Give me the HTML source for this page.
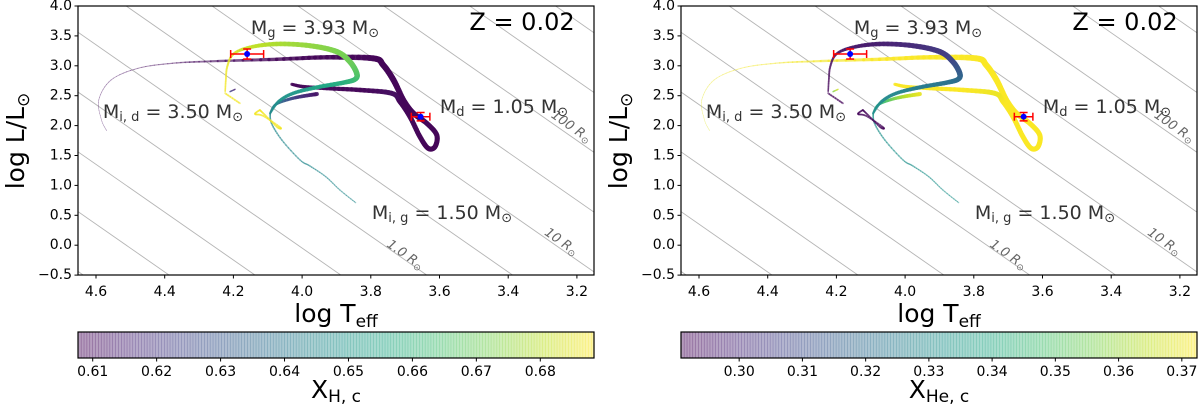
<!DOCTYPE html>
<html><head><meta charset="utf-8"><style>
html,body{margin:0;padding:0;background:#fff;overflow:hidden;width:1200px;height:416px;}
svg{display:block;font-family:"DejaVu Sans","Liberation Sans",sans-serif;}
</style></head><body>
<svg id="chart" width="1200" height="416" viewBox="0 0 1200 416" xmlns="http://www.w3.org/2000/svg"></svg>
<script>
// ---- data ----
const xTicks = [4.6, 4.4, 4.2, 4.0, 3.8, 3.6, 3.4, 3.2];
const yTicks = [-0.5, 0.0, 0.5, 1.0, 1.5, 2.0, 2.5, 3.0, 3.5, 4.0];
const radiusLogR = [-3, -2.5, -2, -1.5, -1, -0.5, 0, 0.5, 1, 1.5, 2, 2.5, 3];
const cbTicksH = [0.61, 0.62, 0.63, 0.64, 0.65, 0.66, 0.67, 0.68];
const cbTicksHe = [0.30, 0.31, 0.32, 0.33, 0.34, 0.35, 0.36, 0.37];
const cbRangeH = [0.6077, 0.6884];
const cbRangeHe = [0.2908, 0.3724];

// donor track
const donorT = [4.569,4.584,4.592,4.556,4.478,4.378,4.266,4.074,3.928,3.793,3.764,3.734,3.705,3.676,3.637,3.608,3.613,3.633,3.657,3.686,3.715,3.739,3.831,3.928,3.996,4.030];
const donorL = [1.915,2.094,2.428,2.763,2.958,3.042,3.075,3.109,3.142,3.125,3.013,2.763,2.428,2.206,2.038,1.843,1.647,1.620,1.814,2.149,2.400,2.540,2.595,2.624,2.651,2.691];
const donorXH = [0.612,0.611,0.611,0.611,0.610,0.610,0.610,0.609,0.609,0.609,0.609,0.609,0.609,0.609,0.609,0.609,0.609,0.609,0.609,0.609,0.609,0.611,0.609,0.609,0.609,0.609];
const donorXHe = [0.368,0.369,0.369,0.370,0.371,0.371,0.371,0.372,0.372,0.372,0.372,0.372,0.372,0.372,0.372,0.372,0.372,0.372,0.372,0.372,0.372,0.370,0.372,0.372,0.372,0.372];
const donorW = [0.6,0.6,0.7,0.8,0.9,1.2,2,3.5,4.5,6,6,6,5.5,5.5,5,5,5,5,5,5,5,5,4.5,4,3.5,3];

// gainer main sequence
const gmsT = [3.844,3.890,3.931,3.977,4.006,4.059,4.089,4.093];
const gmsL = [0.711,0.923,1.145,1.324,1.425,1.759,2.038,2.206];
const gmsXH = [0.645,0.645,0.645,0.645,0.645,0.645,0.645,0.645];
const gmsXHe = [0.332,0.332,0.332,0.332,0.332,0.332,0.332,0.332];
const gmsW = [1.2,1.2,1.3,1.4,1.4,1.5,1.6,1.7];

// gainer lower branch
const glowT = [4.093,4.079,4.045,4.006,3.957];
const glowL = [2.206,2.344,2.428,2.483,2.528];
const glowXH = [0.645,0.640,0.630,0.620,0.612];
const glowXHe = [0.331,0.340,0.352,0.362,0.370];
const glowW = [2,2.5,3,3.5,4];

// gainer upper thick branch
const gupT = [4.093,4.069,4.026,3.957,3.880,3.846,3.841,3.861,3.899,3.977,4.074,4.152,4.200,4.218,4.222,4.224];
const gupL = [2.206,2.400,2.540,2.640,2.718,2.774,2.875,3.069,3.236,3.336,3.365,3.309,3.197,2.985,2.763,2.567];
const gupXH = [0.646,0.648,0.650,0.654,0.658,0.662,0.666,0.670,0.672,0.675,0.678,0.681,0.684,0.686,0.687,0.687];
const gupXHe = [0.331,0.330,0.328,0.325,0.322,0.320,0.317,0.310,0.305,0.301,0.298,0.296,0.294,0.293,0.292,0.292];
const gupW = [2,3,3.5,4,4.5,5,5.5,5.5,5.5,5,4.5,3.5,2.5,2,1.8,1.6];

// small hooks and loop
const hook1T = [4.224,4.181];
const hook1L = [2.540,2.373];
const hook1XH = [0.687,0.687];
const hook1XHe = [0.292,0.292];
const hook2T = [4.210,4.195];
const hook2L = [2.567,2.607];
const hook2XH = [0.625,0.615];
const hook2XHe = [0.355,0.368];
const loopT = [4.123,4.137,4.113,4.064,4.072,4.108,4.123];
const loopL = [2.261,2.194,2.161,1.972,1.972,2.177,2.261];
const loopXH = [0.687,0.687,0.687,0.687,0.687,0.687,0.687];
const loopXHe = [0.292,0.292,0.292,0.292,0.292,0.292,0.292];

// observed stars
const obsT = [4.160, 3.655];
const obsL = [3.197, 2.149];
const obsErrT = [0.048, 0.027];
const obsErrL = [0.084, 0.070];

// ---- helpers ----
const NS = 'http://www.w3.org/2000/svg';
const svg = document.getElementById('chart');
function el(tag, attrs, parent){ const e=document.createElementNS(NS,tag); for(const k in attrs) e.setAttribute(k,attrs[k]); (parent||svg).appendChild(e); return e; }
const vir = ['#440154','#482475','#414487','#355f8d','#2a788e','#21918c','#22a884','#44bf70','#7ad151','#bddf26','#fde725'];
function hex(c){return [parseInt(c.slice(1,3),16),parseInt(c.slice(3,5),16),parseInt(c.slice(5,7),16)];}
function viridis(t){ t=Math.max(0,Math.min(1,t)); const p=t*10, i=Math.min(9,Math.floor(p)), f=p-i; const a=hex(vir[i]), b=hex(vir[i+1]); return 'rgb('+a.map((v,k)=>Math.round(v+(b[k]-v)*f)).join(',')+')'; }

const AX = {left:78, right:594, top:6, bottom:275};
const TMAX = 4.6 + (96-78)/343.5, TMIN = 4.6 - (594-96)/343.5;
function panel(off, idx){
  const g = el('g', {});
  
  
  const X = t => off + 96 + (4.6 - t)*343.5;
  const Y = l => 6 + (4 - l)*59.8;
  const range = idx===0 ? cbRangeH : cbRangeHe;
  const norm = v => (v-range[0])/(range[1]-range[0]);
  const clipId = 'clip'+idx;
  const cp = el('clipPath',{id:clipId},g);
  el('rect',{x:off+AX.left,y:AX.top,width:AX.right-AX.left,height:AX.bottom-AX.top},cp);
  const plot = el('g',{'clip-path':'url(#'+clipId+')'},g);
  radiusLogR.forEach(r=>{
    // logL = 2r + 4(logT - 3.762); clip to axes range
    const Lof = t => 2*r + 4*(t-3.762);
    const Tof = l => 3.762 + (l-2*r)/4;
    let tA = Math.min(TMAX, Tof(4.0));   // high-T end (upper left)
    let tB = Math.max(TMIN, Tof(-0.5));  // low-T end (lower right)
    if (tA <= tB) return;
    const ln = el('line',{x1:X(tA),y1:Y(Lof(tA)),x2:X(tB),y2:Y(Lof(tB)),stroke:'#b5b5b5','stroke-width':0.9},plot);
    
    
  });
  function track(T,L,V,W,name){
    const tg = el('g',{},plot);
    
    
    const pts = T.map((t,i)=>[X(t),Y(L[i])]);
    const n=pts.length, sub=8;
    for(let i=0;i<n-1;i++){
      const p0=pts[Math.max(0,i-1)],p1=pts[i],p2=pts[i+1],p3=pts[Math.min(n-1,i+2)];
      let prev=p1;
      for(let s=1;s<=sub;s++){
        const u=s/sub,u2=u*u,u3=u2*u;
        const cx=0.5*((2*p1[0])+(-p0[0]+p2[0])*u+(2*p0[0]-5*p1[0]+4*p2[0]-p3[0])*u2+(-p0[0]+3*p1[0]-3*p2[0]+p3[0])*u3);
        const cy=0.5*((2*p1[1])+(-p0[1]+p2[1])*u+(2*p0[1]-5*p1[1]+4*p2[1]-p3[1])*u2+(-p0[1]+3*p1[1]-3*p2[1]+p3[1])*u3);
        const fm=(s-0.5)/sub;
        const v=V[i]+(V[i+1]-V[i])*fm;
        const w=(W?W[i]+(W[i+1]-W[i])*fm:2);
        el('line',{x1:prev[0],y1:prev[1],x2:cx,y2:cy,stroke:viridis(norm(v)),'stroke-width':w,'stroke-linecap':'round','stroke-opacity':Math.min(0.92,0.3+w*0.15)},tg);
        prev=[cx,cy];
      }
    }
  }
  const pick=(a,b)=> idx===0?a:b;
  track(donorT,donorL,pick(donorXH,donorXHe),donorW,'donor-track');
  track(gmsT,gmsL,pick(gmsXH,gmsXHe),gmsW,'gainer-ms-track');
  track(glowT,glowL,pick(glowXH,glowXHe),glowW,'gainer-lower-branch');
  track(gupT,gupL,pick(gupXH,gupXHe),gupW,'gainer-upper-branch');
  track(hook1T,hook1L,pick(hook1XH,hook1XHe),[1.8,1.8],'gainer-hook');
  track(hook2T,hook2L,pick(hook2XH,hook2XHe),[1.5,1.5],'gainer-hook-dark');
  track(loopT,loopL,pick(loopXH,loopXHe),[1.8,1.8,1.8,1.8,1.8,1.8,1.8],'gainer-loop');
  obsT.forEach((t,i)=>{
    const og=el('g',{},plot);
    
    
    const cx=X(t), cy=Y(obsL[i]), xa=X(t+obsErrT[i]), xb=X(t-obsErrT[i]), ya=Y(obsL[i]+obsErrL[i]), yb=Y(obsL[i]-obsErrL[i]);
    el('line',{x1:xa,y1:cy,x2:xb,y2:cy,stroke:'#ff0000','stroke-width':1.5},og);
    el('line',{x1:cx,y1:ya,x2:cx,y2:yb,stroke:'#ff0000','stroke-width':1.5},og);
    [[xa,cy,1],[xb,cy,1],[cx,ya,0],[cx,yb,0]].forEach(c=>{
      if(c[2]) el('line',{x1:c[0],y1:c[1]-4,x2:c[0],y2:c[1]+4,stroke:'#ff0000','stroke-width':1.5},og);
      else el('line',{x1:c[0]-4,y1:c[1],x2:c[0]+4,y2:c[1],stroke:'#ff0000','stroke-width':1.5},og);
    });
    el('circle',{cx:cx,cy:cy,r:3,fill:'#0000ff'},og);
  });
  [['1.0',405,255],['10',561,242],['100',571,127]].forEach(r=>{
    const t=el('text',{x:off+r[1],y:r[2],'font-size':13,'font-style':'italic',fill:'#666','text-anchor':'middle','dominant-baseline':'central',transform:'rotate(35 '+(off+r[1])+' '+r[2]+')'},g);
    
    
    t.innerHTML=r[0]+' R<tspan font-size="9" dy="4">⊙</tspan>';
  });
  el('rect',{x:off+AX.left,y:AX.top,width:AX.right-AX.left,height:AX.bottom-AX.top,fill:'none',stroke:'#000','stroke-width':1.2},g);
  xTicks.forEach(t=>{
    const x=X(t);
    el('line',{x1:x,y1:AX.bottom,x2:x,y2:AX.bottom+3.5,stroke:'#000','stroke-width':1},g);
    const tx=el('text',{x:x,y:292,'font-size':14,'text-anchor':'middle','dominant-baseline':'central'},g);
    
    
    tx.textContent=t.toFixed(1);
  });
  yTicks.forEach(l=>{
    const y=Y(l);
    el('line',{x1:off+AX.left-3.5,y1:y,x2:off+AX.left,y2:y,stroke:'#000','stroke-width':1},g);
    const ty=el('text',{x:off+AX.left-6,y:y,'font-size':14,'text-anchor':'end','dominant-baseline':'central'},g);
    
    
    ty.textContent=(l<0?'−':'')+Math.abs(l).toFixed(1);
  });
  const xl=el('text',{x:off+336,y:322,'font-size':25,'text-anchor':'middle'},g);
  
  
  xl.innerHTML='log T<tspan font-size="17" dy="5">eff</tspan>';
  const yl=el('text',{x:0,y:0,'font-size':25,'text-anchor':'middle',transform:'translate('+(off+24)+',141) rotate(-90)'},g);
  
  
  yl.innerHTML='log L/L<tspan font-size="17" dy="5">⊙</tspan>';
  const ann=[['Z = 0.02',522,22,24,'#000','z-label',''],
    ['M','315',28,19,'#333','gainer-mass-label','g|= 3.93 M'],
    ['M','173',112,19,'#333','initial-donor-mass-label','i, d|= 3.50 M'],
    ['M','504',107,19,'#333','donor-mass-label','d|= 1.05 M'],
    ['M','442',213,19,'#333','initial-gainer-mass-label','i, g|= 1.50 M']];
  ann.forEach(a=>{
    const t=el('text',{x:off+(+a[1]),y:a[2],'font-size':a[3],fill:a[4],'text-anchor':'middle','dominant-baseline':'central'},g);
    
    
    if(!a[6]) t.textContent=a[0];
    else { const p=a[6].split('|'); t.innerHTML='M<tspan font-size="13" dy="5">'+p[0]+'</tspan><tspan dy="-5"> '+p[1]+'</tspan><tspan font-size="13" dy="5">⊙</tspan>'; }
  });
  const cg=el('g',{},g);
  
  
  const cbL=off+78, cbR=off+594, cbT=332, cbB=358, N=180;
  for(let i=0;i<N;i++){
    el('rect',{x:cbL+(cbR-cbL)*i/N,y:cbT,width:(cbR-cbL)/N+0.6,height:cbB-cbT,fill:viridis((i+0.5)/N),'fill-opacity':0.4},cg);
  }
  el('rect',{x:cbL,y:cbT,width:cbR-cbL,height:cbB-cbT,fill:'none',stroke:'#000','stroke-width':1.2},cg);
  const ticks = idx===0?cbTicksH:cbTicksHe;
  ticks.forEach(v=>{
    const x=cbL+(v-range[0])/(range[1]-range[0])*(cbR-cbL);
    el('line',{x1:x,y1:cbB,x2:x,y2:cbB+3.5,stroke:'#000','stroke-width':1},cg);
    const t=el('text',{x:x,y:372,'font-size':14,'text-anchor':'middle','dominant-baseline':'central'},cg);
    
    
    t.textContent=v.toFixed(2);
  });
  const cl=el('text',{x:off+336,y:398,'font-size':25,'text-anchor':'middle'},cg);
  
  
  cl.innerHTML='X<tspan font-size="17" dy="4">'+(idx===0?'H, c':'He, c')+'</tspan>';
}
panel(0,0);
panel(603,1);
</script>
</body></html>
